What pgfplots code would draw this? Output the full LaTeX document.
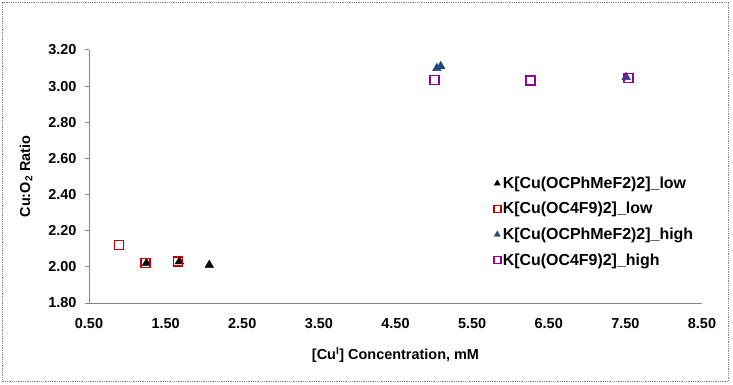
\documentclass[border=0pt]{standalone}
\usepackage{pgfplots}
\pgfplotsset{compat=1.18}
\usepackage{fontspec}
\setmainfont{Liberation Sans}

\definecolor{lowred}{RGB}{192,0,0}
\definecolor{highblue}{RGB}{31,73,125}
\definecolor{highpurple}{RGB}{153,0,153}
\definecolor{axisgray}{RGB}{134,134,134}

\begin{document}
\begin{tikzpicture}
\useasboundingbox (0,0) rectangle (733bp,385bp);
% chart area frame
\draw[axisgray, densely dotted, line width=0.8bp] (2.5bp,3.5bp) rectangle (728.5bp,383bp);
\begin{axis}[
    at={(89bp,82bp)}, anchor=south west,
    scale only axis, width=613bp, height=253bp,
    xmin=0.5, xmax=8.5, ymin=1.8, ymax=3.2,
    xtick={0.5,1.5,2.5,3.5,4.5,5.5,6.5,7.5,8.5},
    ytick={1.8,2.0,2.2,2.4,2.6,2.8,3.0,3.2},
    axis x line*=bottom, axis y line*=left,
    axis line style={axisgray, line width=1bp},
    x tick style={draw=none},
    y tick style={axisgray, line width=1bp},
    tick align=outside, major tick length=4bp,
    ticklabel style={font=\bfseries\fontsize{14.5}{16}\selectfont},
    /pgf/number format/.cd, fixed, fixed zerofill, precision=2, assume math mode=true,
    /pgfplots/.cd,
    xticklabel style={yshift=-8bp},
    yticklabel style={xshift=-5bp},
    label style={font=\bfseries\fontsize{14.5}{16}\selectfont},
    xlabel={[Cu\textsuperscript{I}] Concentration, mM},
    ylabel={Cu:O\textsubscript{2} Ratio},
    xlabel style={at={(axis description cs:0.5,0)}, anchor=center, yshift=-52bp},
    ylabel style={at={(axis description cs:-0.1028,0.5)}, anchor=center},
    legend cell align=left,
    legend style={at={(axis description cs:0.660,0.507)}, anchor=north west,
        draw=none, fill=none, inner sep=0pt, row sep=8.5bp,
        font=\bfseries\fontsize{16}{18}\selectfont},
    legend image code/.code={\draw[#1, mark size=3.5bp] plot coordinates {(4bp,0bp)};},
]
\addplot[only marks, mark=triangle*, mark size=5bp, black, mark options={fill=black}]
    coordinates {(1.25,2.02) (1.68,2.03) (2.07,2.01)};
\addlegendentry{K[Cu(OCPhMeF2)2]\_low}
\addplot[only marks, mark=square, mark size=4.5bp, lowred, line width=1.5bp]
    coordinates {(0.89,2.12) (1.24,2.02) (1.66,2.03)};
\addlegendentry{K[Cu(OC4F9)2]\_low}
\addplot[only marks, mark=triangle*, mark size=5bp, highblue, mark options={fill=highblue}]
    coordinates {(5.04,3.10) (5.09,3.11) (7.51,3.05)};
\addlegendentry{K[Cu(OCPhMeF2)2]\_high}
\addplot[only marks, mark=square, mark size=4.5bp, highpurple, line width=1.5bp]
    coordinates {(5.01,3.035) (6.26,3.03) (7.54,3.045)};
\addlegendentry{K[Cu(OC4F9)2]\_high}
\end{axis}
\end{tikzpicture}
\end{document}
